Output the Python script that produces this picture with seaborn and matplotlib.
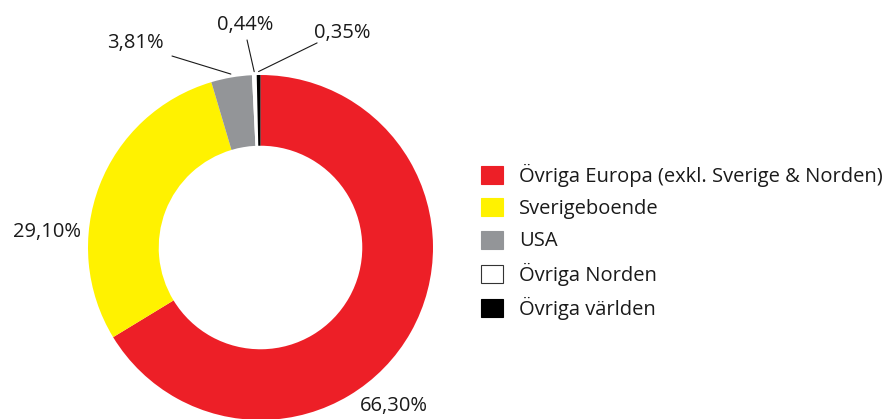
import matplotlib.pyplot as plt
import seaborn as sns
import numpy as np
from matplotlib.patches import Patch

# Data
categories = ['Övriga Europa (exkl. Sverige & Norden)', 'Sverigeboende', 'USA',
              'Övriga Norden', 'Övriga världen']
shares = [66.30, 29.10, 3.81, 0.44, 0.35]
value_labels = ['66,30%', '29,10%', '3,81%', '0,44%', '0,35%']
colors = ['#ED1F27', '#FFF200', '#939598', '#FFFFFF', '#000000']

# Label placement (data units, pie radius = 1) and leader line ends (None = no line)
label_pos = [(0.774, -0.919), (-1.238, 0.090), (-0.728, 1.186), (-0.090, 1.290), (0.472, 1.243)]
leader_end = [None, None, (-0.513, 1.110), (-0.078, 1.203), (0.328, 1.186)]

sns.set_theme(style='white')
plt.rcParams['font.family'] = ['Open Sans', 'DejaVu Sans']

fig = plt.figure(figsize=(8.84, 4.19), dpi=100)
ax = fig.add_axes([88 / 884, (419 - 420) / 419, 345 / 884, 345 / 419])

wedges, _ = ax.pie(shares, colors=colors, startangle=90, counterclock=False, radius=1,
                   wedgeprops=dict(width=0.41, linewidth=0))
ax.set_xlim(-1, 1)
ax.set_ylim(-1, 1)
ax.set_aspect('equal')
ax.axis('off')

# Percentage labels and leader lines
for w, txt, pos, end in zip(wedges, value_labels, label_pos, leader_end):
    ax.text(pos[0], pos[1], txt, ha='center', va='center', fontsize=14.5,
            color='#1a1a1a', clip_on=False)
    if end is not None:
        mid = np.deg2rad((w.theta1 + w.theta2) / 2)
        start = (1.02 * np.cos(mid), 1.02 * np.sin(mid))
        ax.plot([start[0], end[0]], [start[1], end[1]], color='#1a1a1a', lw=0.8,
                clip_on=False)

# Legend
handles = [Patch(facecolor=c, edgecolor='#333333' if c == '#FFFFFF' else c, linewidth=0.8)
           for c in colors]
fig.legend(handles, categories, loc='upper left', bbox_to_anchor=(481 / 884, 1 - 164 / 419),
           frameon=False, borderpad=0, borderaxespad=0, fontsize=14.5,
           handlelength=1.1, handleheight=1.0, handletextpad=0.8, labelspacing=0.56,
           labelcolor='#1a1a1a')

fig.savefig('out.png', dpi=100)
